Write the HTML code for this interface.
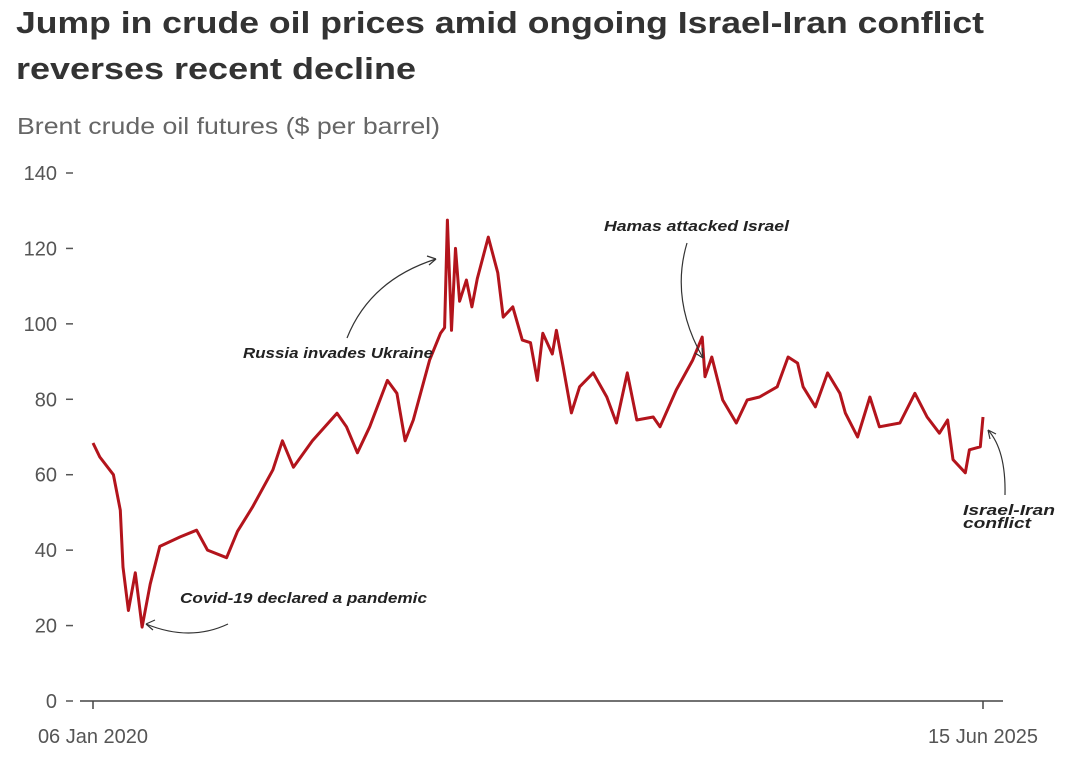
<!DOCTYPE html>
<html><head><meta charset="utf-8"><style>
body{margin:0;background:#fff;width:1068px;height:761px;overflow:hidden;font-family:"Liberation Sans",sans-serif}
svg{position:absolute;left:0;top:0}
</style></head><body>
<svg width="1068" height="761" id="c">
<text x="16" y="33" font-size="31" font-weight="bold" fill="#333" textLength="968" lengthAdjust="spacingAndGlyphs">Jump in crude oil prices amid ongoing Israel-Iran conflict</text>
<text x="16" y="79" font-size="31" font-weight="bold" fill="#333" textLength="400" lengthAdjust="spacingAndGlyphs">reverses recent decline</text>
<text x="17" y="134" font-size="23" fill="#666" textLength="423" lengthAdjust="spacingAndGlyphs">Brent crude oil futures ($ per barrel)</text>
<g id="yaxis"></g>
<line x1="80" y1="701" x2="1003" y2="701" stroke="#444" stroke-width="1.5"/>
<line x1="93" y1="701" x2="93" y2="709" stroke="#444" stroke-width="1.5"/>
<line x1="983" y1="701" x2="983" y2="709" stroke="#444" stroke-width="1.5"/>
<text x="93" y="743" font-size="20" fill="#555" text-anchor="middle">06 Jan 2020</text>
<text x="983" y="743" font-size="20" fill="#555" text-anchor="middle">15 Jun 2025</text>
<path id="line" fill="none" stroke="#b3141c" stroke-width="3" stroke-linejoin="round"/>
<g fill="none" stroke="#333" stroke-width="1.2">
<path d="M228,624 Q190,642 146,624"/>
<path d="M146,624 l9,-4 M146,624 l7,6"/>
<path d="M347,338 Q370,280 436,259"/>
<path d="M436,259 l-9,-3 M436,259 l-7,6"/>
<path d="M687,243 Q670,300 703,358"/>
<path d="M703,358 l-1,-10 M703,358 l-8,-5"/>
<path d="M1005,495 Q1006,450 988,430"/>
<path d="M988,430 l2,9 M988,430 l8,4"/>
</g>
<g font-size="15" font-weight="bold" font-style="italic" fill="#222" lengthAdjust="spacingAndGlyphs">
<text x="180" y="603" textLength="247" lengthAdjust="spacingAndGlyphs">Covid-19 declared a pandemic</text>
<text x="243" y="358" textLength="190" lengthAdjust="spacingAndGlyphs">Russia invades Ukraine</text>
<text x="604" y="231" textLength="185" lengthAdjust="spacingAndGlyphs">Hamas attacked Israel</text>
<text x="963" y="515" textLength="92" lengthAdjust="spacingAndGlyphs">Israel-Iran</text>
<text x="963" y="528" textLength="68" lengthAdjust="spacingAndGlyphs">conflict</text>
</g>
</svg>
<script>
const yTicks=[0,20,40,60,80,100,120,140];
const months=[0,0.5,1.5,2.0,2.2,2.6,3.1,3.6,4.2,4.9,6.4,7.6,8.4,9.8,10.6,11.7,13.2,13.9,14.7,16.1,17.9,18.6,19.4,20.3,21.6,22.3,22.9,23.5,24.7,25.5,25.8,26.0,26.3,26.6,26.9,27.4,27.8,28.2,29.0,29.7,30.1,30.8,31.5,32.1,32.6,33.0,33.7,34.0,34.5,35.1,35.7,36.7,37.7,38.4,39.2,39.9,41.1,41.6,42.8,44.0,44.7,44.9,45.4,46.2,47.2,48.0,48.9,50.2,51.0,51.7,52.1,53.0,53.9,54.8,55.2,56.1,57.0,57.7,59.2,60.3,61.2,62.1,62.7,63.1,64.0,64.3,65.1,65.3];
const prices=[68.4,64.7,60,50.6,35.5,24,34,19.6,31,41,43.5,45.3,40,38,45,51.4,61.3,69,62,69,76.3,72.7,65.8,72.7,85,81.6,69,74.5,90.4,97.5,99,127.5,98.3,120,106,111.6,104.5,112,123,113.5,101.8,104.5,95.7,95,85,97.5,92,98.3,88.6,76.4,83.3,87,80.6,73.7,87,74.5,75.3,72.7,82.5,90.4,96.5,86,91.2,79.8,73.7,79.8,80.6,83.3,91.2,89.6,83.3,78,87,81.6,76.4,70,80.6,72.7,73.7,81.6,75.3,71,74.5,64,60.5,66.6,67.4,75.3];
const X=m=>93+m*(890/65.3);
const Y=v=>701-v*(528/140);
const g=document.getElementById('yaxis');
const NS='http://www.w3.org/2000/svg';
yTicks.forEach(v=>{
 const t=document.createElementNS(NS,'text');
 t.setAttribute('x',57);t.setAttribute('y',Y(v)+7);t.setAttribute('font-size','20');t.setAttribute('fill','#555');t.setAttribute('text-anchor','end');
 t.textContent=v;
 
 
 g.appendChild(t);
 const l=document.createElementNS(NS,'line');
 l.setAttribute('x1',66);l.setAttribute('x2',73);l.setAttribute('y1',Y(v));l.setAttribute('y2',Y(v));l.setAttribute('stroke','#555');l.setAttribute('stroke-width','1.5');
 
 
 g.appendChild(l);
});
document.getElementById('line').setAttribute('d',months.map((m,i)=>(i?'L':'M')+X(m).toFixed(1)+','+Y(prices[i]).toFixed(1)).join(' '));
</script>
</body></html>
